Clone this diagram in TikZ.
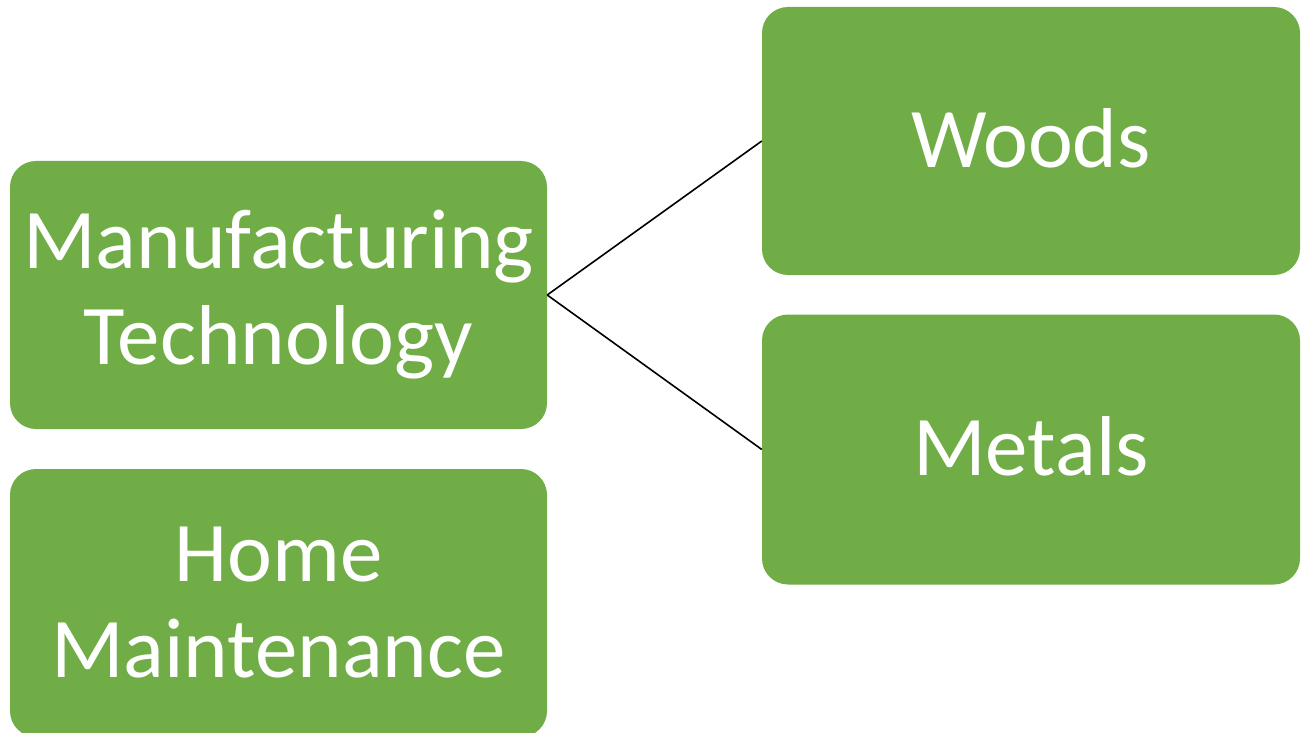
\documentclass[tikz,border=0pt]{standalone}
\usepackage{fontspec}
\setmainfont{Carlito}
\definecolor{boxgreen}{HTML}{70AD47}
\begin{document}
\begin{tikzpicture}[x=1pt,y=-1pt,
  gbox/.style={fill=boxgreen, draw=none, rounded corners=26pt, text=white,
    minimum width=537pt, minimum height=268pt, inner sep=0pt,
    align=center, font=\fontsize{85}{96}\selectfont},
  onebox/.style={gbox, minimum width=538pt, text depth=7pt},
  link/.style={draw=black, line width=1.6pt}]
\useasboundingbox (0,0) rectangle (1302,733);
\node[gbox] (mt) at (278.5,295) {Manufacturing\\Technology};
\node[gbox] (hm) at (278.5,603) {Home\\Maintenance};
\node[onebox] (wd) at (1031,141) {Woods};
\node[onebox, minimum height=270pt] (mtl) at (1031,449.5) {Metals};
\draw[link] (mt.east) -- (wd.west);
\draw[link] (mt.east) -- (mtl.west);
\end{tikzpicture}
\end{document}
